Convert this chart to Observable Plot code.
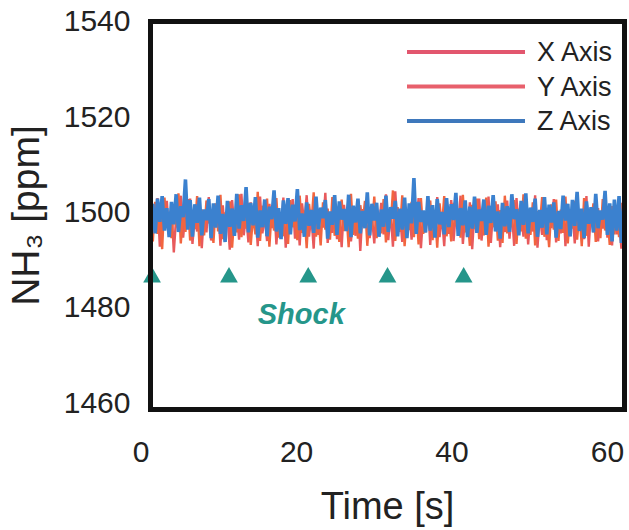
<!DOCTYPE html>
<html>
<head>
<meta charset="utf-8">
<script src="https://cdn.jsdelivr.net/npm/d3@7"></script>
<script src="https://cdn.jsdelivr.net/npm/@observablehq/plot@0.6"></script>
<style>
  html, body { margin: 0; padding: 0; background: #fff; }
  #chart { width: 629px; height: 530px; }
  svg { font-family: "Liberation Sans", Arial, sans-serif; }
</style>
</head>
<body>
<div id="chart"></div>
<script>
// ---- data ----
const t0 = 1.2;      // first sample time [s]
const dt = 0.3;      // sample interval [s]

const xAxisPpm = [
1494.2,1500.8,1496.5,1503.0,1492.8,1499.6,1497.1,1502.4,1495.0,1501.2,1491.6,1498.9,1496.3,1503.5,1494.7,1500.1,1497.8,1502.9,1493.4,1499.5,
1496.0,1501.7,1492.5,1500.3,1495.8,1503.2,1494.1,1498.7,1497.4,1502.0,1493.0,1501.5,1495.5,1499.8,1492.2,1502.6,1496.9,1500.4,1494.3,1503.9,
1495.2,1499.9,1493.7,1502.1,1497.0,1500.6,1492.9,1503.3,1495.6,1499.2,1494.0,1501.8,1496.7,1502.5,1493.3,1500.0,1495.9,1503.1,1492.6,1499.7,
1496.4,1502.8,1494.5,1500.5,1493.1,1501.9,1497.5,1503.6,1494.9,1499.3,1492.4,1502.2,1495.3,1500.9,1496.8,1504.1,1493.6,1499.0,1495.7,1502.7,
1494.4,1500.2,1492.7,1501.6,1496.2,1503.4,1493.9,1499.4,1495.1,1502.3,1491.9,1500.7,1497.2,1503.7,1494.6,1499.1,1493.5,1501.3,1496.6,1502.0,
1495.4,1503.8,1494.2,1500.3,1492.8,1504.4,1496.1,1499.6,1493.8,1502.9,1495.0,1500.8,1494.3,1501.5,1497.3,1503.0,1492.5,1499.9,1495.8,1502.4,
1493.2,1500.5,1496.5,1503.2,1494.8,1499.3,1492.9,1501.8,1495.5,1502.6,1494.0,1500.1,1496.9,1503.5,1493.4,1499.8,1495.2,1502.1,1492.3,1500.6,
1496.3,1502.9,1494.1,1499.5,1495.7,1503.3,1493.6,1500.9,1497.0,1501.7,1492.7,1499.2,1495.9,1502.5,1494.5,1500.4,1493.0,1503.0,1496.4,1499.7,
1494.9,1502.2,1493.3,1500.0,1496.0,1503.6,1492.6,1499.4,1495.3,1501.9,1494.2,1500.7,1496.7,1502.8,1493.7,1499.9,1495.6,1503.1,1492.9,1501.2,
1495.0,1500.3,1493.5,1502.4,1496.2,1499.6,1494.4,1503.4,1492.8,1500.8,1495.8,1502.0,1493.9,1499.1,1496.6,1502.7,1494.7,1500.5,1493.1,1501.6,1495.4,1499.0,1492.4,1500.2
];

const yAxisPpm = [
1498.6,1493.9,1502.2,1495.5,1500.9,1492.3,1503.1,1496.8,1499.4,1494.6,1501.7,1497.2,1504.0,1493.5,1500.2,1495.9,1502.8,1494.1,1499.9,1496.5,
1503.4,1492.9,1500.6,1495.2,1502.5,1497.7,1499.1,1493.6,1501.9,1496.0,1503.7,1494.4,1500.0,1497.5,1502.3,1492.6,1499.6,1495.8,1503.8,1494.8,
1500.7,1496.6,1502.0,1493.2,1499.3,1495.4,1504.3,1494.0,1501.4,1497.1,1502.9,1492.8,1500.5,1496.2,1503.0,1494.7,1499.8,1495.0,1501.6,1493.4,
1502.6,1496.9,1499.0,1494.2,1503.5,1495.7,1500.4,1492.5,1501.8,1497.4,1504.2,1494.9,1499.5,1493.1,1502.1,1496.4,1500.8,1494.3,1503.2,1495.1,
1499.7,1493.8,1502.7,1496.1,1500.3,1492.7,1503.9,1495.3,1499.2,1494.5,1501.5,1497.6,1502.4,1493.0,1500.1,1496.7,1503.3,1494.6,1499.4,1495.6,
1502.8,1493.7,1500.6,1497.0,1504.6,1494.0,1501.1,1495.9,1503.6,1492.9,1499.8,1496.3,1502.2,1494.8,1500.9,1493.3,1503.0,1495.5,1499.1,1497.3,
1502.5,1494.2,1500.2,1492.6,1501.9,1496.8,1503.4,1495.0,1499.6,1493.9,1502.0,1497.1,1500.7,1494.7,1503.7,1495.8,1499.3,1493.0,1501.6,1496.5,
1502.9,1494.4,1500.0,1495.2,1503.1,1492.8,1499.9,1496.9,1502.3,1494.1,1500.5,1493.6,1503.5,1495.6,1499.2,1497.0,1502.6,1493.4,1500.8,1496.0,
1503.8,1494.5,1499.5,1495.3,1502.1,1493.1,1500.3,1497.2,1503.2,1494.9,1499.0,1492.7,1501.7,1496.4,1502.7,1494.0,1500.6,1495.7,1503.3,1493.5,
1499.8,1496.6,1502.4,1494.3,1500.1,1492.9,1503.0,1495.1,1499.4,1497.5,1501.9,1493.8,1500.9,1494.6,1502.8,1496.2,1499.6,1493.2,1501.3,1495.4,1500.4,1494.8,1502.0,1496.1
];

const zAxisPpm = [
1497.1,1501.8,1495.6,1502.9,1498.0,1503.4,1496.2,1500.9,1494.8,1502.2,1497.5,1503.8,1495.9,1501.3,1499.0,1506.9,1496.4,1502.6,1494.9,1501.7,
1497.8,1503.1,1495.2,1500.6,1498.4,1502.8,1494.6,1501.9,1496.8,1503.5,1495.5,1499.7,1493.8,1502.4,1497.0,1500.8,1495.1,1503.9,1496.6,1501.5,
1498.2,1505.3,1495.8,1502.0,1497.3,1503.2,1494.7,1500.4,1496.9,1502.7,1495.0,1501.2,1498.6,1504.6,1496.0,1500.9,1494.4,1502.5,1497.6,1503.0,
1495.4,1501.6,1498.1,1504.9,1496.3,1499.8,1494.9,1502.1,1497.2,1500.5,1495.7,1503.3,1496.5,1501.0,1498.8,1502.6,1494.5,1500.2,1497.4,1503.6,
1495.3,1502.3,1498.5,1500.7,1496.1,1503.7,1494.8,1501.4,1497.9,1502.9,1495.6,1500.3,1496.7,1504.2,1495.2,1501.8,1498.3,1502.0,1494.9,1500.6,
1497.0,1503.5,1495.9,1501.1,1498.7,1502.4,1495.0,1500.8,1496.4,1503.1,1494.6,1501.9,1497.7,1507.2,1495.5,1502.2,1498.0,1500.4,1495.8,1503.4,
1496.2,1501.5,1494.7,1502.8,1497.5,1500.1,1495.4,1503.0,1496.9,1501.7,1498.4,1504.1,1495.1,1500.9,1497.3,1502.5,1494.8,1501.2,1496.6,1503.3,
1495.7,1500.6,1498.2,1502.7,1495.3,1501.4,1497.8,1503.6,1496.0,1500.2,1494.5,1502.0,1497.1,1501.3,1495.9,1503.8,1498.6,1500.7,1495.2,1502.4,
1497.4,1504.0,1495.6,1501.0,1498.0,1502.9,1494.9,1500.5,1496.8,1503.2,1495.4,1501.6,1497.9,1502.1,1494.7,1500.3,1496.5,1503.5,1498.3,1501.8,
1495.0,1502.6,1497.2,1504.3,1496.1,1500.8,1494.6,1502.3,1497.6,1501.1,1495.8,1503.9,1496.7,1500.4,1498.5,1504.5,1495.3,1501.9,1493.9,1502.7,1496.2,1503.4,1493.6,1500.9
];

const seriesNames  = ["X Axis", "Y Axis", "Z Axis"];
const seriesColors = ["#e85a5c", "#f2653f", "#3b81cf"];
const seriesWidths = [2.4, 2.4, 3.6];
const legendColors = ["#e2566e", "#e8606c", "#3e78bc"];

const shockTimes = [1.4, 11.3, 21.5, 31.7, 41.5];
const shockLevel = 1486.4;
const shockLabel = {t: 20.6, ppm: 1478.6, text: "Shock"};

const xTicks = [0, 20, 40, 60];
const yTicks = [1460, 1480, 1500, 1520, 1540];
const xDomain = [1.2, 62.2];
const yDomain = [1458.7, 1540];

// ---- build tables ----
const seriesTables = [xAxisPpm, yAxisPpm, zAxisPpm].map((vals, k) =>
  vals.map((v, i) => ({series: seriesNames[k], t: t0 + i * dt, ppm: v}))
);
const shocks = shockTimes.map(t => ({t, ppm: shockLevel}));

const teal = "#25968a";
const textColor = "#222";

const plot = Plot.plot({
  width: 629,
  height: 530,
  marginLeft: 150,
  marginRight: 5,
  marginTop: 21,
  marginBottom: 121,
  style: {fontFamily: '"Liberation Sans", Arial, sans-serif', color: textColor, background: "#fff"},
  x: {domain: xDomain},
  y: {domain: yDomain},
  color: {domain: seriesNames, range: seriesColors},
  marks: [
    Plot.axisX({ticks: xTicks, tickSize: 0, tickPadding: 31, fontSize: 30, label: null, tickFormat: d => String(d)}),
    Plot.axisY({ticks: yTicks, tickSize: 0, tickPadding: 20, fontSize: 30, label: null, tickFormat: d => String(d)}),
    ...seriesTables.map((tbl, k) =>
      Plot.line(tbl, {x: "t", y: "ppm", stroke: "series", strokeWidth: seriesWidths[k], strokeLinejoin: "miter"})
    ),
    Plot.dot(shocks, {x: "t", y: "ppm", symbol: "triangle", r: 6.6, fill: teal, stroke: "none"}),
    Plot.text([shockLabel], {x: "t", y: "ppm", text: "text", fill: teal, fontSize: 29, fontWeight: "bold", fontStyle: "italic"}),
    Plot.text(["Time [s]"], {frameAnchor: "bottom", dy: 97, fontSize: 38, fill: textColor, lineAnchor: "middle", textAnchor: "middle"}),
    Plot.text(["NH\u2083 [ppm]"], {frameAnchor: "left", dx: -124, rotate: -90, fontSize: 39, fill: textColor, lineAnchor: "middle", textAnchor: "middle"}),
    Plot.frame({stroke: "#111", strokeWidth: 5})
  ]
});

document.getElementById("chart").appendChild(plot);

// ---- legend inside the frame (top-right) ----
const svg = d3.select(plot);
const frameRight = 629 - 5;
const frameTop = 21;
const lg = svg.append("g").attr("class", "legend").attr("text-anchor", "start");
seriesNames.forEach((name, i) => {
  const y = frameTop + 31 + i * 34.5;
  lg.append("line")
    .attr("x1", frameRight - 217).attr("x2", frameRight - 99)
    .attr("y1", y).attr("y2", y)
    .attr("stroke", legendColors[i]).attr("stroke-width", 4);
  lg.append("text")
    .attr("x", frameRight - 87).attr("y", y)
    .attr("dy", "0.35em")
    .attr("text-anchor", "start")
    .attr("font-size", 27)
    .attr("fill", textColor)
    .text(name);
});
</script>
</body>
</html>
